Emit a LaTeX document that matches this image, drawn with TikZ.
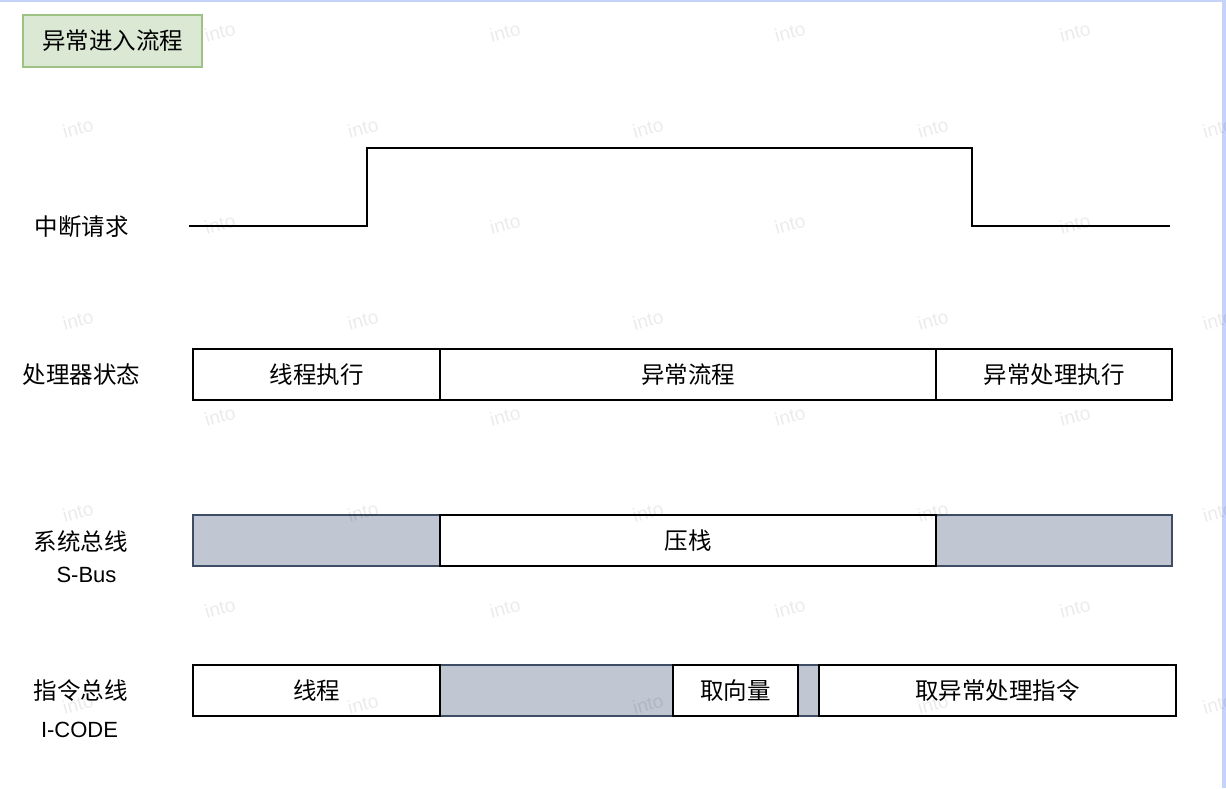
\documentclass[tikz,border=0pt]{standalone}
\usepackage{fontspec}
\setmainfont{Liberation Sans}
\newfontfamily\cjk{Noto Sans CJK SC}
\definecolor{titlefill}{HTML}{DAE8D4}
\definecolor{titleedge}{HTML}{9DC283}
\definecolor{busfill}{HTML}{C0C7D2}
\definecolor{busedge}{HTML}{3E4D63}
\definecolor{frameblue}{HTML}{C4D3F7}
\tikzset{
  cjklabel/.style={font=\cjk\fontsize{23.5}{23.5}\selectfont, text height=20.7pt, text depth=2.8pt, inner sep=0pt},
  latinlabel/.style={font=\fontsize{22}{22}\selectfont, text height=15.75pt, text depth=0pt, inner sep=0pt},
  seg/.style={cjklabel, draw=black, line width=1.8pt, fill=white, minimum height=51pt, outer sep=0pt},
  busy/.style={draw=busedge, line width=1.8pt, fill=busfill, minimum height=51pt, inner sep=0pt, outer sep=0pt},
  wave/.style={draw=black, line width=2pt, line join=miter},
  mark wm/.style={font=\fontsize{19}{19}\selectfont, text=black, text opacity=0.08, rotate=15, inner sep=0pt},
}
\begin{document}
\begin{tikzpicture}[x=1pt, y=-1pt]
\useasboundingbox (0,0) rectangle (1226,788);
\fill[white] (0,0) rectangle (1226,788);
% window frame
\fill[frameblue] (0,0) rectangle (1226,2);
\fill[frameblue] (1222,0) rectangle (1226,788);

% title
\node[cjklabel, draw=titleedge, fill=titlefill, line width=1.5pt, minimum width=179pt, minimum height=52pt] (title) at (112.5,41) {异常进入流程};

% row labels
\node[cjklabel] (lirq) at (81.5,227) {中断请求};
\node[cjklabel] (lcpu) at (81.5,375) {处理器状态};
\node[cjklabel] (lsbus) at (80.5,542) {系统总线};
\node[latinlabel] (lsbus2) at (86.5,574.5) {S-Bus};
\node[cjklabel] (libus) at (80.5,691) {指令总线};
\node[latinlabel] (libus2) at (79.5,729.5) {I-CODE};

% interrupt request waveform
\coordinate (w0) at (189,226);
\coordinate (w1) at (367,226);
\coordinate (w2) at (367,148);
\coordinate (w3) at (972,148);
\coordinate (w4) at (972,226);
\coordinate (w5) at (1170,226);
\draw[wave] (w0) -- (w1) -- (w2) -- (w3) -- (w4) -- (w5);

% processor state
\node[seg, minimum width=247pt] (p1) at (316.5,374.5) {线程执行};
\node[seg, minimum width=496pt] (p2) at (688,374.5) {异常流程};
\node[seg, minimum width=236pt] (p3) at (1054,374.5) {异常处理执行};

% system bus
\node[busy, minimum width=247pt] (s1) at (316.5,540.5) {};
\node[busy, minimum width=236pt] (s3) at (1054,540.5) {};
\node[seg, minimum width=496pt] (s2) at (688,540.5) {压栈};

% instruction bus
\node[busy, minimum width=233pt] (i2) at (556.5,690.5) {};
\node[busy, minimum width=21pt] (i4) at (808.5,690.5) {};
\node[seg, minimum width=247pt] (i1) at (316.5,690.5) {线程};
\node[seg, minimum width=125pt] (i3) at (735.5,690.5) {取向量};
\node[seg, minimum width=357pt] (i5) at (997.5,690.5) {取异常处理指令};

% watermark
\foreach \r in {0,2,4,6} {
  \foreach \c in {220,505,790,1075} {
    \node[mark wm] at (\c,32+96*\r) {into};
  }
}
\foreach \r in {1,3,5,7} {
  \foreach \c in {78,363,648,933,1218} {
    \node[mark wm] at (\c,32+96*\r) {into};
  }
}
\end{tikzpicture}
\end{document}
